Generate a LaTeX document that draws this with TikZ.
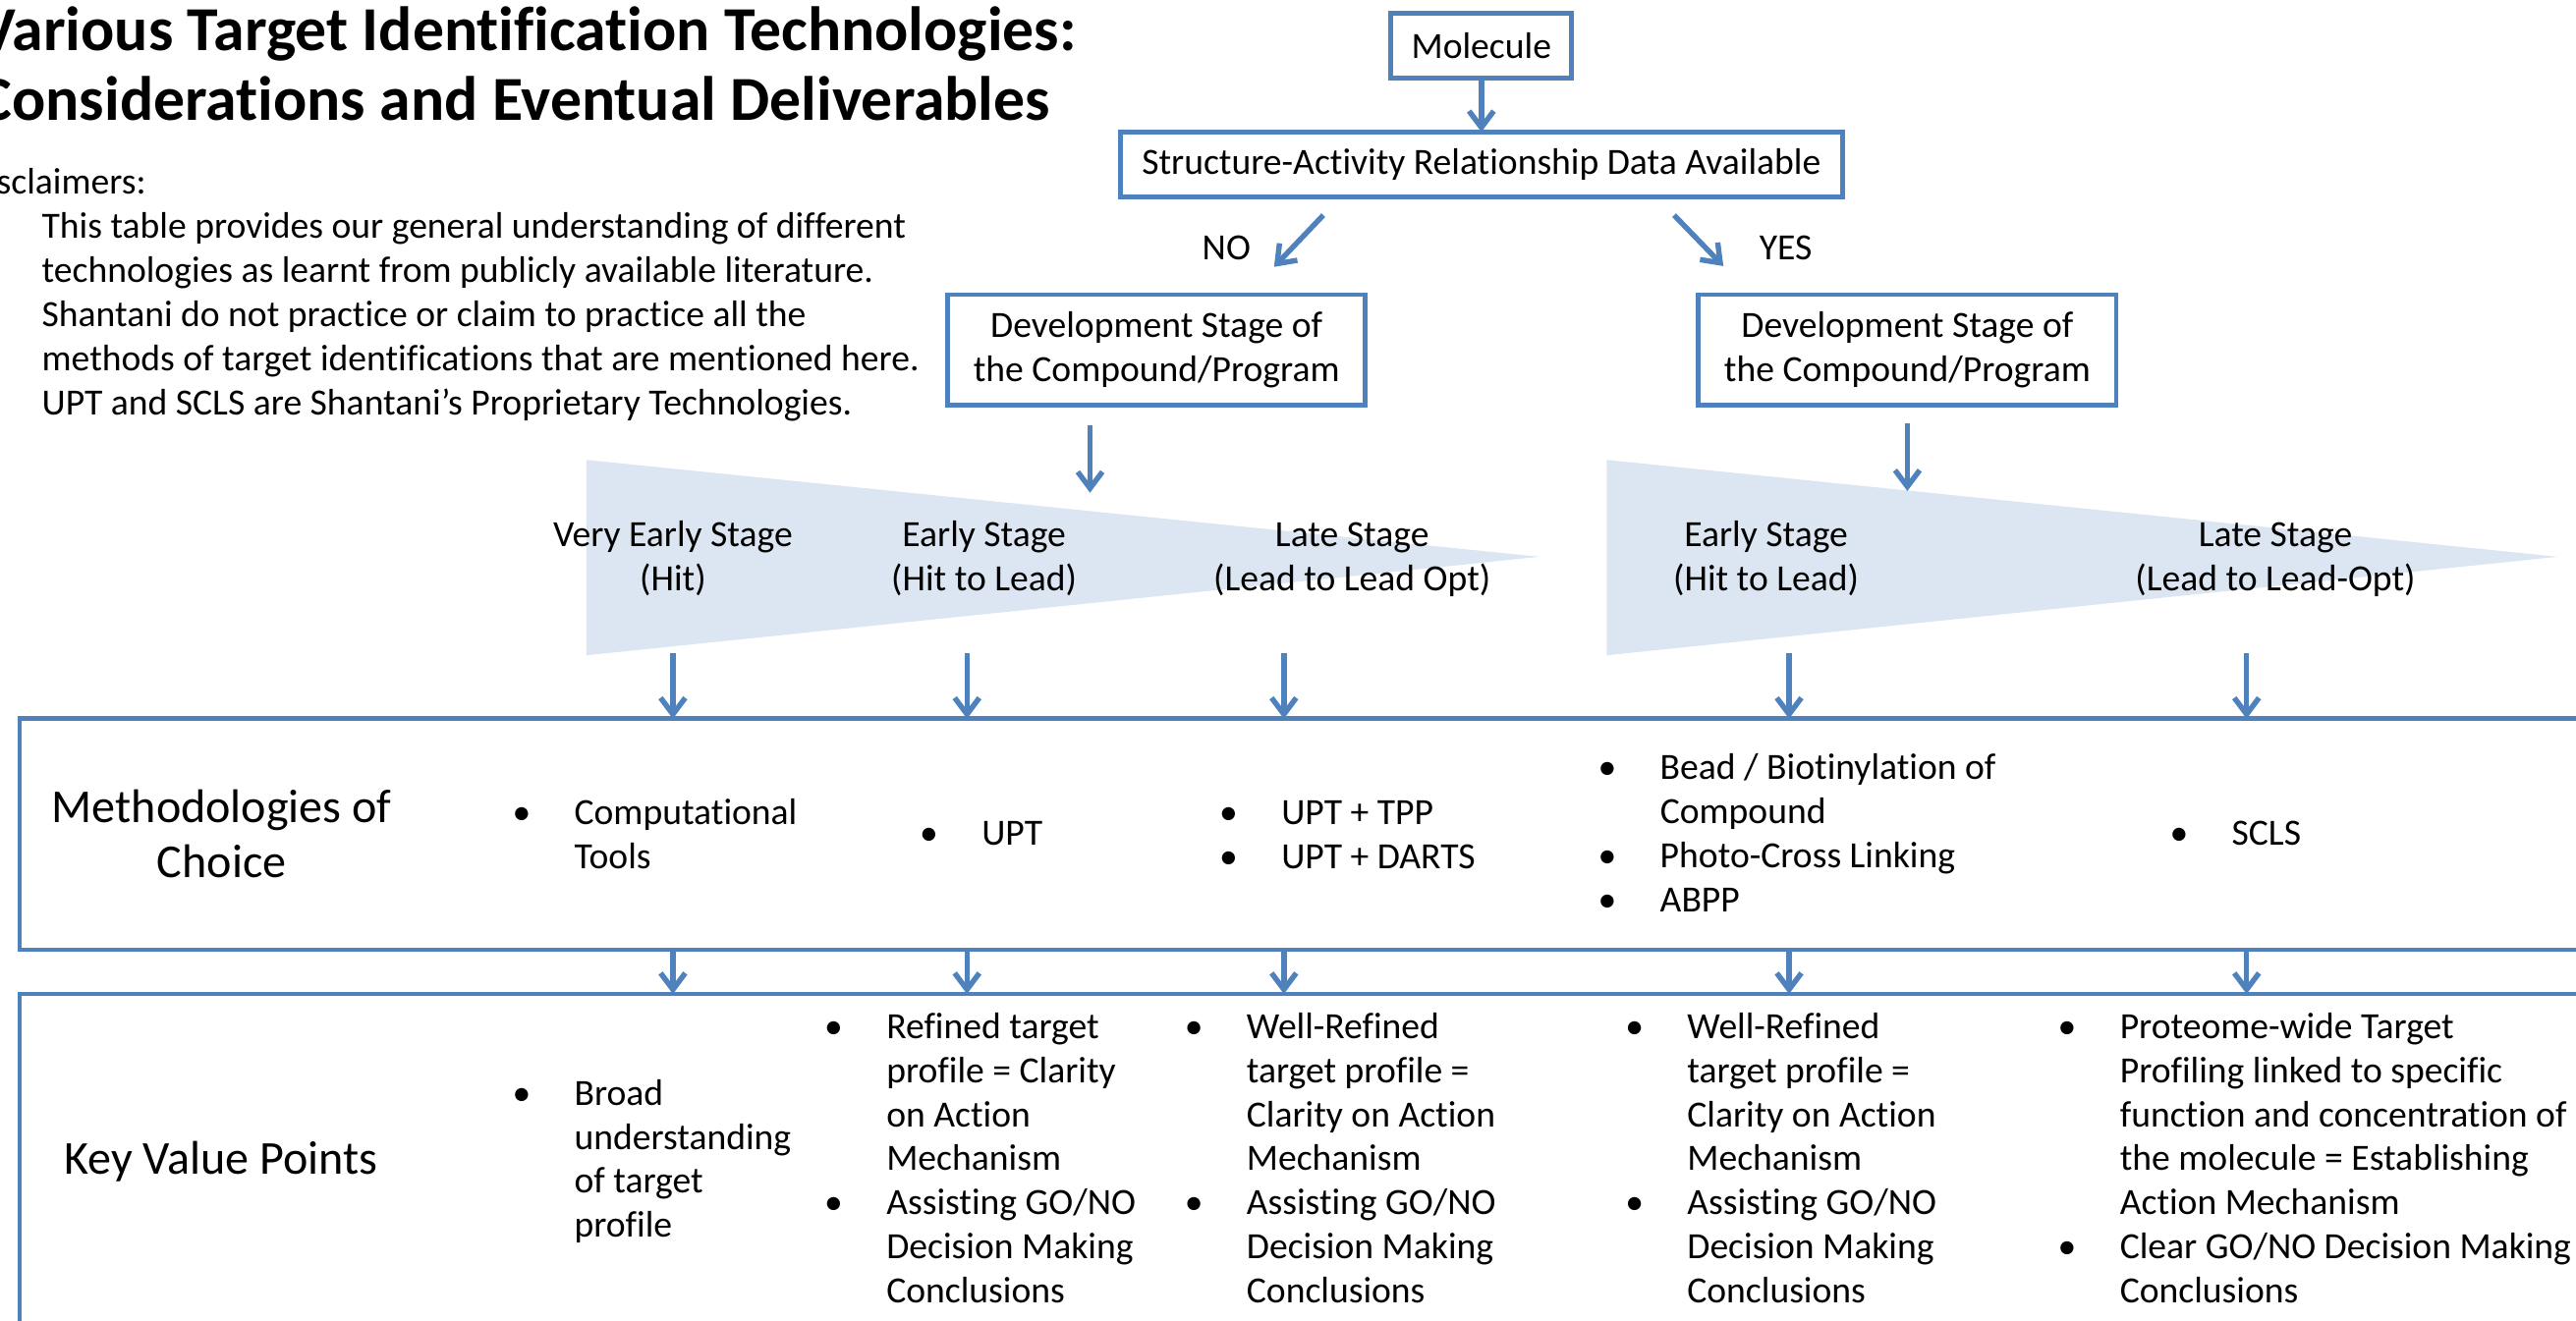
\documentclass[tikz,border=0pt]{standalone}
\usepackage{fontspec}
\setmainfont{Carlito}[Ligatures=NoCommon]
\usetikzlibrary{arrows.meta}
\definecolor{frameblue}{HTML}{4F81BD}
\definecolor{wedgefill}{HTML}{DCE6F2}
\newcommand\bodyfnt{\fontsize{18pt}{21.5pt}\selectfont}
\newcommand\headfnt{\fontsize{23pt}{27pt}\selectfont}
\newcommand\titlefnt{\fontsize{30.5pt}{34pt}\selectfont\bfseries}
% bullet hanging 25.7pt left of the item text
\newcommand\bu{\llap{\makebox[51.4pt][c]{\textbullet}}}
\newcommand\rows[1]{\begin{tabular}[t]{@{}l@{}}#1\end{tabular}}
\newcommand\crows[1]{\begin{tabular}[t]{@{}c@{}}#1\end{tabular}}

\begin{document}
\begin{tikzpicture}[x=0.8pt,y=-0.8pt,
  box/.style={draw=frameblue, line width=2.3pt, inner sep=0pt, outer sep=0pt, align=center, font=\bodyfnt},
  panel/.style={draw=frameblue, line width=2.3pt, inner sep=0pt, outer sep=0pt, anchor=north west},
  flow/.style={draw=frameblue, line width=2.6pt, -{Straight Barb[length=8pt,width=12pt]}},
  txt/.style={inner sep=0pt, outer sep=0pt, font=\bodyfnt, anchor=base west},
  ctxt/.style={inner sep=0pt, outer sep=0pt, font=\bodyfnt, anchor=base},
  head/.style={inner sep=0pt, outer sep=0pt, font=\headfnt, anchor=base},
]
\useasboundingbox (0,0) rectangle (1568,804);

% stage wedges
\fill[wedgefill] (357,280) -- (357,399) -- (937,339) -- cycle;
\fill[wedgefill] (978,280) -- (978,399) -- (1557,339) -- cycle;

% title and disclaimers
\node[anchor=base west, inner sep=0pt, font=\titlefnt] (title) at (-13,31)
  {\rows{Various Target Identification Technologies:\\Considerations and Eventual Deliverables}};
\node[txt] (disc) at (-21,118.4) {Disclaimers:};
\node[txt] (discbody) at (25.5,145.3) {\rows{This table provides our general understanding of different\\
  technologies as learnt from publicly available literature.\\
  Shantani do not practice or claim to practice all the\\
  methods of target identifications that are mentioned here.\\
  UPT and SCLS are Shantani’s Proprietary Technologies.}};

% decision flow
\node[box, minimum width=88pt, minimum height=31.8pt] (mol) at (901.7,27.9) {Molecule};
\node[box, minimum width=351.6pt, minimum height=31.8pt] (sar) at (901.7,100.2) {Structure-Activity Relationship Data Available};
\node[box, minimum width=203.4pt, minimum height=53.7pt] (devno) at (704,213) {Development Stage of\\the Compound/Program};
\node[box, minimum width=203.4pt, minimum height=53.7pt] (devyes) at (1161,213) {Development Stage of\\the Compound/Program};
\draw[flow] (mol) -- (sar);

\coordinate (noA) at (805.5,131);  \coordinate (noB) at (775.5,162.5);
\coordinate (yesA) at (1019,131);  \coordinate (yesB) at (1049,162);
\draw[flow] (noA) -- (noB);
\draw[flow] (yesA) -- (yesB);
\node[ctxt] (no) at (746.5,158.3) {NO};
\node[ctxt] (yes) at (1087,158.3) {YES};

\coordinate (dnA) at (663.5,259); \coordinate (dnB) at (663.5,300);
\coordinate (dyA) at (1161,258);  \coordinate (dyB) at (1161,299);
\draw[flow] (dnA) -- (dnB);
\draw[flow] (dyA) -- (dyB);

% stage labels
\node[ctxt] (st1) at (409.6,332.8) {\crows{Very Early Stage\\(Hit)}};
\node[ctxt] (st2) at (599,332.8) {\crows{Early Stage\\(Hit to Lead)}};
\node[ctxt] (st3) at (823,332.8) {\crows{Late Stage\\(Lead to Lead Opt)}};
\node[ctxt] (st4) at (1075,332.8) {\crows{Early Stage\\(Hit to Lead)}};
\node[ctxt] (st5) at (1385,332.8) {\crows{Late Stage\\(Lead to Lead-Opt)}};

% panels
\node[panel, minimum width=1270pt, minimum height=112.5pt] (meth) at (12,437.6) {};
\node[panel, minimum width=1270pt, minimum height=200pt] (kvp) at (12,605.2) {};

\foreach \x [count=\i] in {409.6,588.6,781.5,1089,1367.5} {
  \coordinate (s\i) at (\x,397.7);
  \draw[flow] (s\i) -- (s\i |- meth.north);
  \draw[flow] (s\i |- meth.south) -- (s\i |- kvp.north);
}

\node[head] (methlbl) at (135,500.8) {\crows{Methodologies of\\Choice}};
\node[head] (kvplbl) at (134.5,714.8) {Key Value Points};

% methodologies of choice
\node[txt] (m1) at (349.6,501.8) {\rows{\bu Computational\\Tools}};
\node[txt] (m2) at (597.6,514.8) {\rows{\bu UPT}};
\node[txt] (m3) at (780,501.8) {\rows{\bu UPT + TPP\\\bu UPT + DARTS}};
\node[txt] (m4) at (1010.5,474.6) {\rows{\bu Bead / Biotinylation of\\Compound\\\bu Photo-Cross Linking\\\bu ABPP}};
\node[txt] (m5) at (1358.5,514.8) {\rows{\bu SCLS}};

% key value points
\node[txt] (k1) at (349.6,672.8) {\rows{\bu Broad\\understanding\\of target\\profile}};
\node[txt] (k2) at (539.6,632.2) {\rows{\bu Refined target\\profile = Clarity\\on Action\\Mechanism\\\bu Assisting GO/NO\\Decision Making\\Conclusions}};
\node[txt] (k3) at (758.8,632.2) {\rows{\bu Well-Refined\\target profile =\\Clarity on Action\\Mechanism\\\bu Assisting GO/NO\\Decision Making\\Conclusions}};
\node[txt] (k4) at (1027,632.2) {\rows{\bu Well-Refined\\target profile =\\Clarity on Action\\Mechanism\\\bu Assisting GO/NO\\Decision Making\\Conclusions}};
\node[txt] (k5) at (1290.4,632.2) {\rows{\bu Proteome-wide Target\\Profiling linked to specific\\function and concentration of\\the molecule = Establishing\\Action Mechanism\\\bu Clear GO/NO Decision Making\\Conclusions}};
\end{tikzpicture}
\end{document}
